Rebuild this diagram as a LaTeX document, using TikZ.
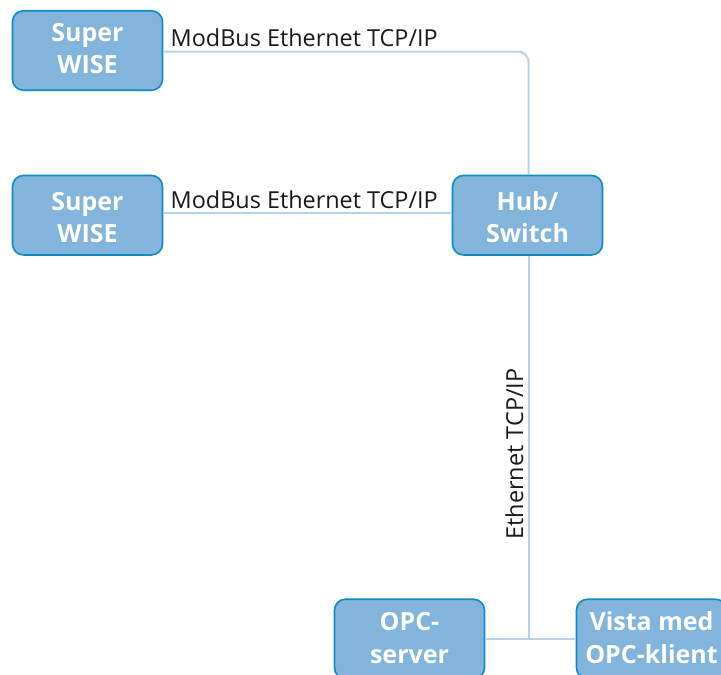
\documentclass[tikz,border=0pt]{standalone}
\usepackage{fontspec}
\setmainfont{Open Sans}
\definecolor{boxfill}{HTML}{82B4DC}
\definecolor{boxedge}{HTML}{0F8CC3}
\definecolor{wire}{HTML}{B5D3EC}
\definecolor{labelink}{HTML}{1A1A1A}
\newcommand{\boxtext}[3][0pt]{\raisebox{#1}[0pt][0pt]{\begin{tabular}{@{}c@{}}#2\\[1.5pt]#3\end{tabular}}}
\tikzset{
  unitbox/.style={draw=boxedge,fill=boxfill,line width=1.6pt,rounded corners=11pt,
    minimum width=150pt,minimum height=79.5pt,inner sep=0pt,
    text=white,font=\fontsize{25}{31}\selectfont\bfseries},
  wireline/.style={draw=wire,line width=2pt},
  linklabel/.style={text=labelink,font=\fontsize{23.4}{28}\selectfont,inner sep=0pt}
}
\begin{document}
\begin{tikzpicture}[x=1pt,y=-1pt]
\path[use as bounding box,clip] (0,0) rectangle (721,675);
\fill[white] (0,0) rectangle (721,675);
\node[unitbox] (s1) at (87.5,50.5) {\boxtext[-7pt]{Super}{WISE}};
\node[unitbox] (s2) at (87.5,215.2) {\boxtext[-11.5pt]{Super}{WISE}};
\node[unitbox] (hub) at (527.5,215.2) {\boxtext[-11.5pt]{Hub/}{Switch}};
\node[unitbox] (opc) at (409.5,639) {\boxtext[-8pt]{OPC-}{server}};
\node[unitbox] (vista) at (651.5,639) {\boxtext[-8pt]{Vista med}{OPC-klient}};
\coordinate (j) at ([xshift=1.2pt]hub.south |- opc.east);
\draw[wireline,rounded corners=11pt] ([yshift=-1pt]s1.east) -- ([xshift=1.2pt,yshift=-1pt]hub.north |- s1.east) -- ([xshift=1.2pt]hub.north);
\draw[wireline] ([yshift=2.2pt]s2.east) -- ([yshift=2.2pt]hub.west);
\draw[wireline] ([xshift=1.2pt]hub.south) -- (j);
\draw[wireline] (opc.east) -- (vista.west);
\node[linklabel,anchor=base west] (l1) at (170.5,46) {ModBus Ethernet TCP/IP};
\node[linklabel,anchor=base west] (l2) at (170.5,208) {ModBus Ethernet TCP/IP};
\node[linklabel,anchor=base,rotate=90] (l3) at (523,454) {Ethernet TCP/IP};
\end{tikzpicture}
\end{document}
